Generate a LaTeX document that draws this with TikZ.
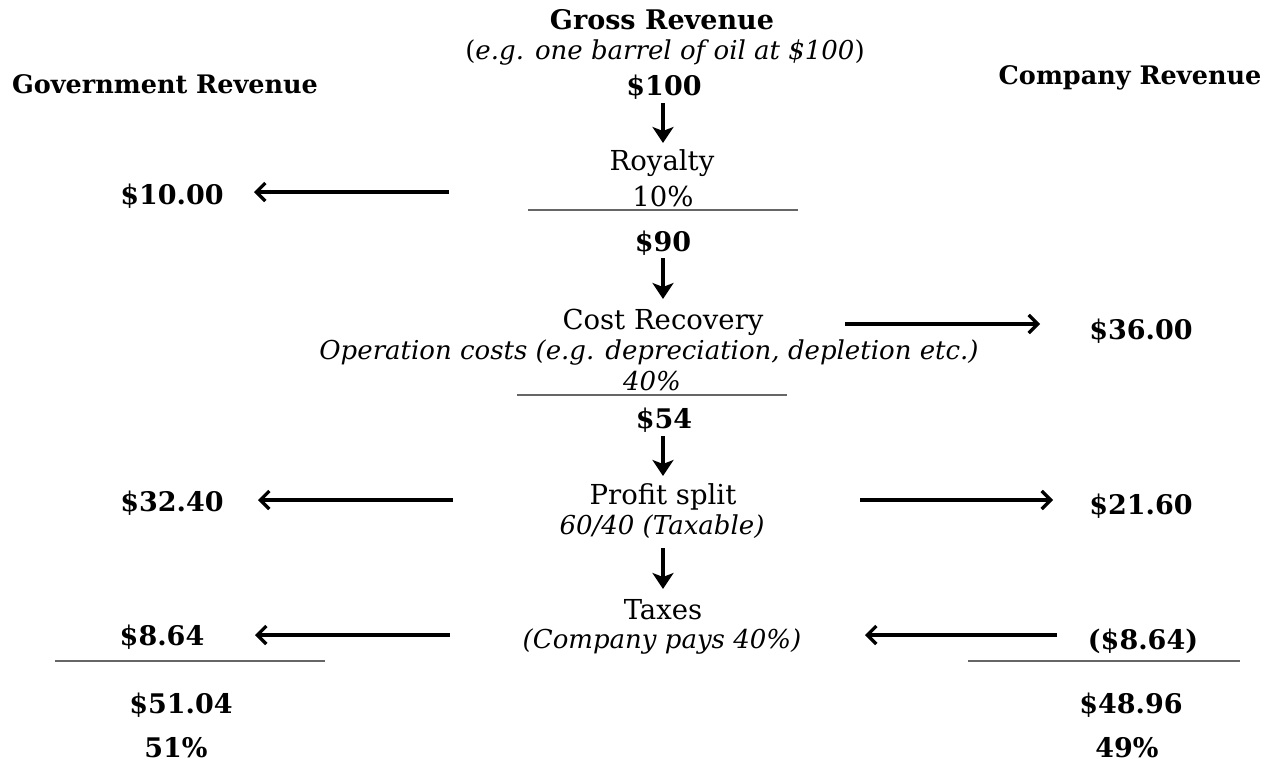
\documentclass[tikz,border=0pt]{standalone}
\usepackage{fontspec}
\setmainfont{DejaVu Serif}
\usetikzlibrary{arrows.meta}
\tikzset{
  txt/.style={inner sep=0pt, anchor=center, font=\fontsize{27.5}{30}\selectfont},
  bld/.style={txt, font=\fontsize{27}{30}\selectfont\bfseries},
  hdr/.style={txt, font=\fontsize{25.5}{30}\selectfont\bfseries},
  itl/.style={txt, font=\fontsize{26}{30}\selectfont\itshape},
  flow/.style={line width=3.6pt, -{Stealth[length=16pt,width=21pt,inset=4pt]}},
  side/.style={line width=3.3pt, -{Straight Barb[length=9pt,width=18pt,line width=3.3pt]}},
  rule/.style={line width=2pt, draw=black!60}
}
\begin{document}
\begin{tikzpicture}[x=1pt,y=-1pt]
\useasboundingbox (0,0) rectangle (1274,764);
% centre column
\node[bld] (gross) at (662,20) {Gross Revenue};
\node[itl] (eg) at (665,53) {\upshape(\itshape e.g. one barrel of oil at \$100\upshape)};
\node[bld] (v100) at (664,87) {\$100};
\node[txt] (roy) at (662,163) {Royalty};
\node[txt] (roypc) at (663,196) {10\%};
\node[bld] (v90) at (663,243) {\$90};
\node[txt] (cost) at (663,322) {Cost Recovery};
\node[itl] (op) at (649,353) {Operation costs (e.g. depreciation, depletion etc.)};
\node[itl] (costpc) at (652,381) {40\%};
\node[bld] (v54) at (664,420) {\$54};
\node[txt] (profit) at (663,497) {Profit split};
\node[itl] (split) at (662,527) {60/40 (Taxable)};
\node[txt] (taxes) at (663,610) {Taxes};
\node[itl] (pays) at (662,641) {(Company pays 40\%)};
% rules
\draw[rule] (528,210) -- (798,210);
\draw[rule] (517,395) -- (787,395);
\draw[rule] (55,661) -- (325,661);
\draw[rule] (968,661) -- (1240,661);
% down arrows
\coordinate (a1s) at (663,103); \coordinate (a1e) at (663,143);
\coordinate (a2s) at (663,258); \coordinate (a2e) at (663,299);
\coordinate (a3s) at (663,436); \coordinate (a3e) at (663,476);
\coordinate (a4s) at (663,548); \coordinate (a4e) at (663,589);
\draw[flow] (a1s) -- (a1e);
\draw[flow] (a2s) -- (a2e);
\draw[flow] (a3s) -- (a3e);
\draw[flow] (a4s) -- (a4e);
% side columns
\node[hdr] (gov) at (165,84) {Government Revenue};
\node[hdr] (comp) at (1130,78) {Company Revenue};
\node[bld] (g1) at (172,196) {\$10.00};
\node[bld] (c1) at (1141,331) {\$36.00};
\node[bld] (g2) at (172,503) {\$32.40};
\node[bld] (c2) at (1141,506) {\$21.60};
\node[bld] (g3) at (162,637) {\$8.64};
\node[bld] (c3) at (1143,641) {(\$8.64)};
\node[bld] (gt) at (181,705) {\$51.04};
\node[bld] (ct) at (1131,705) {\$48.96};
\node[bld] (gp) at (176,748) {51\%};
\node[bld] (cp) at (1127,748) {49\%};
% side arrows
\coordinate (s1) at (449,192); \coordinate (e1) at (254,192);
\coordinate (s2) at (845,324); \coordinate (e2) at (1040,324);
\coordinate (s3) at (453,500); \coordinate (e3) at (258,500);
\coordinate (s4) at (860,500); \coordinate (e4) at (1053,500);
\coordinate (s5) at (450,635); \coordinate (e5) at (255,635);
\coordinate (s6) at (1057,635); \coordinate (e6) at (865,635);
\draw[side] (s1) -- (e1);
\draw[side] (s2) -- (e2);
\draw[side] (s3) -- (e3);
\draw[side] (s4) -- (e4);
\draw[side] (s5) -- (e5);
\draw[side] (s6) -- (e6);
\end{tikzpicture}
\end{document}
